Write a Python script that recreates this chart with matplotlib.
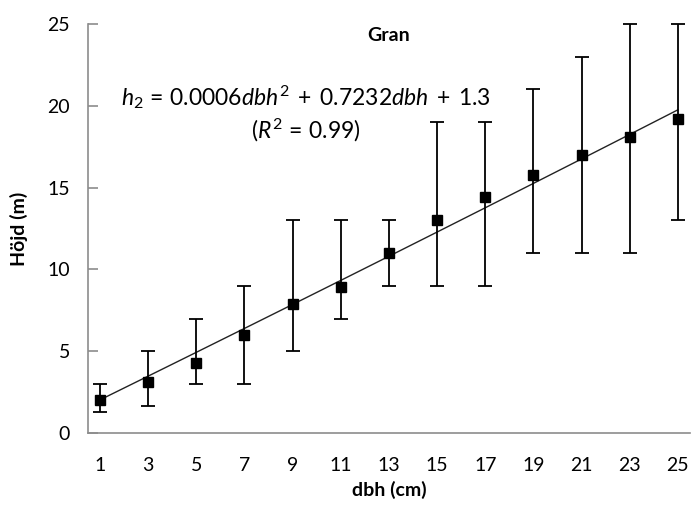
import numpy as np
import matplotlib.pyplot as plt

plt.rcParams['font.family'] = ['Lato', 'DejaVu Sans']
plt.rcParams['mathtext.fontset'] = 'custom'
plt.rcParams['mathtext.rm'] = 'Lato'
plt.rcParams['mathtext.it'] = 'Lato:italic'

# Mean tree height per diameter class, with min/max range
dbh = [1, 3, 5, 7, 9, 11, 13, 15, 17, 19, 21, 23, 25]
hojd = [2.0, 3.1, 4.3, 6.0, 7.9, 8.9, 11.0, 13.0, 14.4, 15.8, 17.0, 18.1, 19.2]
hojd_min = [1.3, 1.65, 3.0, 3.0, 5.0, 7.0, 9.0, 9.0, 9.0, 11.0, 11.0, 11.0, 13.0]
hojd_max = [3.0, 5.0, 7.0, 9.0, 13.0, 13.0, 13.0, 19.0, 19.0, 21.0, 23.0, 25.0, 25.0]

# Fitted second degree polynomial h2 = a*dbh^2 + b*dbh + c
coef = [0.0006, 0.7232, 1.3]
r2 = 0.99

x = np.array(dbh, dtype=float)
y = np.array(hojd)
yerr = [y - np.array(hojd_min), np.array(hojd_max) - y]

fig = plt.figure(figsize=(6.92, 5.11), dpi=100)
ax = fig.add_axes([0.127, 0.1526, 0.87, 0.8004])

# trend line
ax.plot(x, np.polyval(coef, x), color='#222222', linewidth=1.0, zorder=2)

ax.errorbar(x, y, yerr=yerr, fmt='s', color='black', markersize=7.5,
            elinewidth=1.3, capsize=5, capthick=1.3, clip_on=False, zorder=3)

ax.set_xlim(0.5, 25.5)
ax.set_ylim(0, 25)
ax.set_xticks(dbh)
ax.set_yticks([0, 5, 10, 15, 20, 25])

for side in ['top', 'right']:
    ax.spines[side].set_visible(False)
for side in ['left', 'bottom']:
    ax.spines[side].set_color('#8c8c8c')
    ax.spines[side].set_linewidth(1.2)

ax.tick_params(axis='y', direction='in', length=7, width=1.2, color='#8c8c8c',
               labelsize=14, pad=13)
ax.tick_params(axis='x', length=0, labelsize=14, pad=17)

ax.set_xlabel('dbh (cm)', fontsize=14, fontweight='bold', labelpad=5)
ax.set_ylabel('Höjd (m)', fontsize=14, fontweight='bold', labelpad=14)

ax.text(0.5, 0.973, 'Gran', transform=ax.transAxes, ha='center', va='center',
        fontsize=14, fontweight='bold')
eq = r'$h_2\,=\,%.4f\mathit{dbh}^2\;+\;%.4f\mathit{dbh}\;+\;%.1f$' % tuple(coef)
ax.text(0.362, 0.822, eq, transform=ax.transAxes, ha='center', va='center',
        fontsize=16.5)
ax.text(0.362, 0.741, r'$(R^2\,=\,%.2f)$' % r2, transform=ax.transAxes,
        ha='center', va='center', fontsize=16.5)

plt.savefig('out.png', dpi=100)
